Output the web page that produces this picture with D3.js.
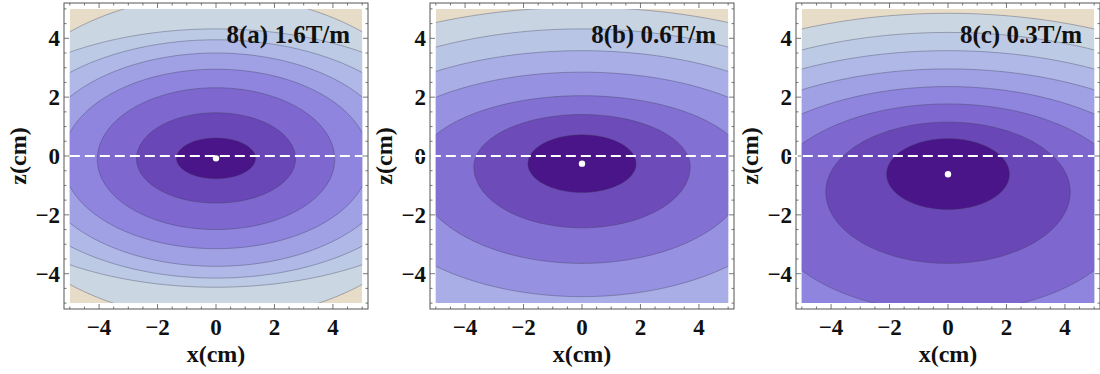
<!DOCTYPE html>
<html>
<head>
<meta charset="utf-8">
<script src="https://cdn.jsdelivr.net/npm/d3@7"></script>
<style>
  body { margin: 0; background: #fff; }
  text { font-family: "Liberation Serif", "DejaVu Serif", "Times New Roman", serif; font-weight: bold; fill: #111; }
</style>
</head>
<body>
<svg id="fig" width="1100" height="374"></svg>
<script>
// panel titles and axis ticks
const panelTitles = ['8(a) 1.6T/m', '8(b) 0.6T/m', '8(c) 0.3T/m'];
const majorTicks = [-4, -2, 0, 2, 4];

// contour rings, innermost first
// each row: [half width in x, z of widest point, z at top (x=0), z at bottom (x=0)]
const ringsA = [
  [1.35, -0.08, 0.61, -0.77],
  [2.72, -0.10, 1.47, -1.60],
  [4.06, -0.12, 2.32, -2.50],
  [5.24, -0.13, 2.95, -3.15],
  [6.20, -0.15, 3.50, -3.75],
  [7.30, -0.15, 3.95, -4.15],
  [8.80, -0.15, 4.32, -4.46],
  [8.00, -0.15, 5.45, -5.55]
];
const ringsB = [
  [1.85, -0.26, 0.72, -1.24],
  [3.70, -0.37, 1.41, -2.44],
  [5.70, -0.50, 2.05, -3.65],
  [7.60, -0.60, 2.85, -4.78],
  [9.00, -0.60, 3.58, -6.20],
  [10.3, -0.60, 4.32, -6.80],
  [12.0, -0.60, 5.05, -7.60]
];
const ringsC = [
  [2.10, -0.62, 0.59, -1.82],
  [4.18, -1.22, 1.15, -3.65],
  [6.30, -1.70, 1.77, -5.30],
  [8.10, -2.00, 2.36, -6.50],
  [9.70, -2.00, 2.96, -7.20],
  [10.9, -2.00, 3.58, -7.80],
  [11.7, -2.00, 4.20, -8.40],
  [12.95, -2.00, 4.85, -9.00]
];
// position of the trap minimum (white dot), z in cm, x = 0
const minimumZ = [-0.08, -0.26, -0.62];

// colours from deepest band to outermost
const palette = ['#4a1589', '#6a47b7', '#7e68cf', '#8f85de', '#a0a0e5',
                 '#afb8e6', '#bdcae5', '#cad6e1', '#e6dcc8'];

const svg = d3.select('#fig');
const fmt = d3.format('d');
const layout = [
  { left: 64, dashFrom: 0 },
  { left: 430, dashFrom: 20 },
  { left: 796, dashFrom: 14 }
];
const allRings = [ringsA, ringsB, ringsC];

layout.forEach((L, pi) => {
  const rings = allRings[pi];
  const x = d3.scaleLinear().domain([-5.2, 5.2]).range([L.left, L.left + 304]);
  const y = d3.scaleLinear().domain([-5.2, 5.2]).range([309, 3]);
  const g = svg.append('g');

  const clipId = 'clip' + pi;
  g.append('clipPath').attr('id', clipId).append('rect')
    .attr('x', x(-5)).attr('y', y(5))
    .attr('width', x(5) - x(-5)).attr('height', y(-5) - y(5));

  const nb = rings.length + 1;
  const interp = d3.piecewise(d3.interpolateRgb, palette);
  const band = i => interp(i / (nb - 1));

  const plot = g.append('g').attr('clip-path', `url(#${clipId})`);
  plot.append('rect')
    .attr('x', x(-5)).attr('y', y(5))
    .attr('width', x(5) - x(-5)).attr('height', y(-5) - y(5))
    .attr('fill', band(nb - 1));

  const line = d3.line().x(d => x(d[0])).y(d => y(d[1])).curve(d3.curveLinearClosed);
  const ringPath = r => {
    const [hw, zc, top, bot] = r;
    return line(d3.range(240).map(i => {
      const t = i / 240 * 2 * Math.PI;
      const s = Math.sin(t);
      return [hw * Math.cos(t), zc + (s >= 0 ? (top - zc) : (zc - bot)) * s];
    }));
  };

  const order = rings.map((r, i) => ({ r, i })).reverse();
  plot.selectAll('path.band').data(order).join('path')
    .attr('class', 'band')
    .attr('d', d => ringPath(d.r))
    .attr('fill', d => band(d.i));

  plot.selectAll('path.iso').data(order).join('path')
    .attr('class', 'iso')
    .attr('d', d => ringPath(d.r))
    .attr('fill', 'none')
    .attr('stroke', '#3c3c55')
    .attr('stroke-opacity', 0.45)
    .attr('stroke-width', 0.8);

  // frame and inward ticks on all sides
  g.append('rect')
    .attr('x', x(-5.2)).attr('y', y(5.2))
    .attr('width', x(5.2) - x(-5.2)).attr('height', y(-5.2) - y(5.2))
    .attr('fill', 'none').attr('stroke', '#555').attr('stroke-width', 1);

  const minor = x.ticks(20);
  const tickLen = v => (majorTicks.includes(v) ? 5 : 2.5);
  const tk = g.append('g').attr('stroke', '#555').attr('stroke-width', 0.8);
  minor.forEach(v => {
    const l = tickLen(v);
    tk.append('line').attr('x1', x(v)).attr('x2', x(v)).attr('y1', y(-5.2)).attr('y2', y(-5.2) - l);
    tk.append('line').attr('x1', x(v)).attr('x2', x(v)).attr('y1', y(5.2)).attr('y2', y(5.2) + l);
    tk.append('line').attr('y1', y(v)).attr('y2', y(v)).attr('x1', x(-5.2)).attr('x2', x(-5.2) + l);
    tk.append('line').attr('y1', y(v)).attr('y2', y(v)).attr('x1', x(5.2)).attr('x2', x(5.2) - l);
  });

  g.selectAll('text.xt').data(majorTicks).join('text')
    .attr('class', 'xt')
    .attr('x', d => x(d)).attr('y', 335)
    .attr('text-anchor', 'middle').attr('font-size', 23)
    .text(fmt);
  g.selectAll('text.yt').data(majorTicks).join('text')
    .attr('class', 'yt')
    .attr('x', x(-5.2) - 4).attr('y', d => y(d)).attr('dy', '0.35em')
    .attr('text-anchor', 'end').attr('font-size', 23)
    .text(fmt);

  g.append('text')
    .attr('x', x(0)).attr('y', 362)
    .attr('text-anchor', 'middle').attr('font-size', 24)
    .text('x(cm)');
  g.append('text')
    .attr('transform', `translate(${L.left - 38},${y(0)}) rotate(-90)`)
    .attr('text-anchor', 'middle').attr('font-size', 24)
    .text('z(cm)');

  g.append('text')
    .attr('x', x(5) - 12).attr('y', 43)
    .attr('text-anchor', 'end').attr('font-size', 25)
    .text(panelTitles[pi]);

  // dashed z = 0 line and trap minimum
  g.append('line')
    .attr('x1', x(-5) - L.dashFrom).attr('x2', x(5))
    .attr('y1', y(0)).attr('y2', y(0))
    .attr('stroke', '#fff').attr('stroke-width', 2)
    .attr('stroke-dasharray', '10,5');
  g.append('circle')
    .attr('cx', x(0)).attr('cy', y(minimumZ[pi])).attr('r', 3.2)
    .attr('fill', '#fff');
});
</script>
</body>
</html>
